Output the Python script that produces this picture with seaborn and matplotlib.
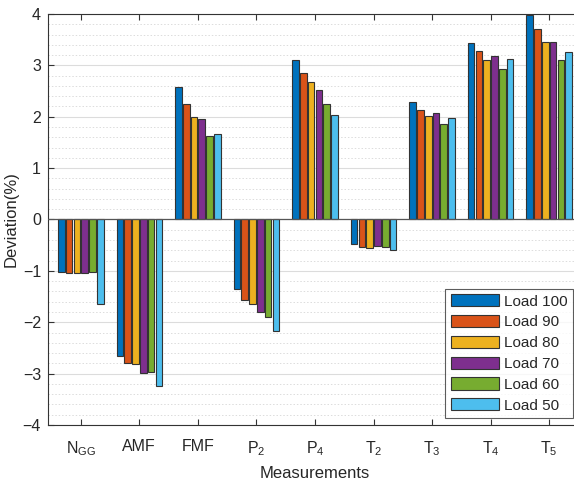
import matplotlib
matplotlib.use("Agg")
import matplotlib.pyplot as plt
from matplotlib.ticker import MultipleLocator
import seaborn as sns
import pandas as pd

categories = ["N$_\\mathregular{GG}$", "AMF", "FMF", "P$_\\mathregular{2}$", "P$_\\mathregular{4}$",
              "T$_\\mathregular{2}$", "T$_\\mathregular{3}$", "T$_\\mathregular{4}$", "T$_\\mathregular{5}$"]
series_names = ["Load 100", "Load 90", "Load 80", "Load 70", "Load 60", "Load 50"]
load100 = [-1.02, -2.65, 2.57, -1.35, 3.10, -0.47, 2.28, 3.44, 3.98]
load90 = [-1.05, -2.79, 2.24, -1.57, 2.86, -0.53, 2.14, 3.28, 3.70]
load80 = [-1.05, -2.81, 2.00, -1.65, 2.67, -0.55, 2.02, 3.11, 3.45]
load70 = [-1.05, -2.98, 1.96, -1.80, 2.52, -0.51, 2.07, 3.19, 3.46]
load60 = [-1.02, -2.96, 1.62, -1.90, 2.25, -0.54, 1.86, 2.93, 3.10]
load50 = [-1.64, -3.25, 1.67, -2.17, 2.03, -0.59, 1.98, 3.13, 3.26]
colors = ["#0072BD", "#D95319", "#EDB120", "#7E2F8E", "#77AC30", "#4DBEEE"]

all_series = [load100, load90, load80, load70, load60, load50]
rows = []
for name, vals in zip(series_names, all_series):
    for c, v in zip(categories, vals):
        rows.append({"Measurement": c, "Load": name, "Deviation": v})
df = pd.DataFrame(rows)

sns.set_style("white")
plt.rcParams["font.family"] = ["Liberation Sans", "DejaVu Sans"]

fig = plt.figure(figsize=(5.74, 4.83), dpi=100)
ax = fig.add_axes([48/574, 1 - 425/483, 534/574, 411/483])

ax.yaxis.set_major_locator(MultipleLocator(1))
ax.yaxis.set_minor_locator(MultipleLocator(0.2))
ax.grid(axis="y", which="major", color="#dcdcdc", linewidth=0.8, linestyle="-")
ax.grid(axis="y", which="minor", color="#dcdcdc", linewidth=0.7, linestyle=(0, (1.5, 2)))
ax.set_axisbelow(True)

sns.barplot(data=df, x="Measurement", y="Deviation", hue="Load", hue_order=series_names,
            order=categories, palette=colors, width=0.8, gap=0.15,
            edgecolor="#333333", linewidth=0.8, saturation=1, ax=ax, errorbar=None)

ax.axhline(0, color="#555555", linewidth=0.9, zorder=3)
ax.set_ylim(-4, 4)
ax.set_xlim(-0.56, 8.56)
ax.set_yticks(range(-4, 5))
ax.tick_params(axis="both", which="major", direction="in", length=4, labelsize=11.5,
               top=True, bottom=True, left=True, right=False, color="#333333")
ax.tick_params(axis="x", which="major", pad=10)
ax.tick_params(axis="y", which="major", pad=5)
ax.tick_params(axis="y", which="minor", left=False)
ax.set_xlabel("Measurements", fontsize=12, labelpad=6)
ax.set_ylabel("Deviation(%)", fontsize=12, labelpad=3)
for s in ax.spines.values():
    s.set_color("#333333")
    s.set_linewidth(0.8)

leg = ax.legend(loc="lower right", bbox_to_anchor=(573/574, (483-418)/483),
                bbox_transform=fig.transFigure, fontsize=11, frameon=True,
                fancybox=False, edgecolor="#333333", handlelength=3.2,
                handleheight=0.85, labelspacing=0.42, borderpad=0.35, handletextpad=0.3,
                borderaxespad=0)
leg.get_frame().set_linewidth(0.8)

fig.savefig("out.png", dpi=100)
